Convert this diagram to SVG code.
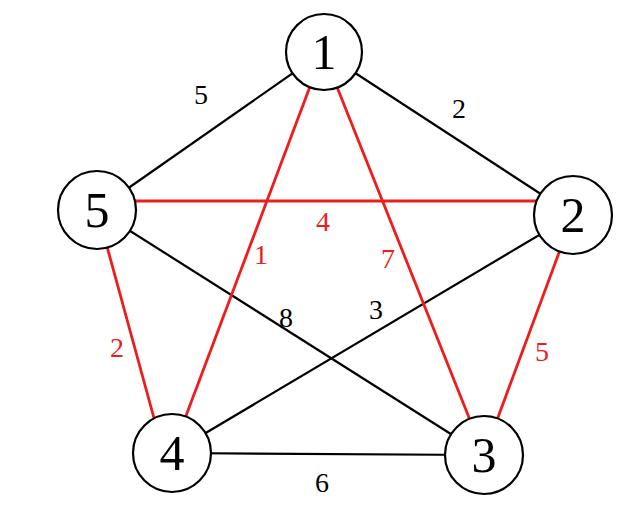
<svg xmlns="http://www.w3.org/2000/svg" width="640" height="524" viewBox="0 0 640 524">
<style>
.e{stroke-width:2.2;fill:none}
.k{stroke:#000}
.r{stroke:#ee1c1c;stroke-width:2.8}
.n circle{fill:#fff;stroke:#000;stroke-width:2.2}
.n text{font-family:"Liberation Serif",serif;font-size:50px;text-anchor:middle;fill:#000}
.l{font-family:"Liberation Serif",serif;font-size:28px;text-anchor:middle}
.lk{fill:#000}
.lr{fill:#ee1c1c}
</style>
<rect width="640" height="524" fill="#fff"/>
<g id="edges">
<line class="e k" x1="323" y1="52" x2="97" y2="210"/>
<line class="e k" x1="323" y1="52" x2="573" y2="215"/>
<line class="e k" x1="97" y1="210" x2="484" y2="455"/>
<line class="e k" x1="172" y1="453" x2="573" y2="215"/>
<line class="e k" x1="172" y1="453" x2="484" y2="455"/>
<line class="e r" x1="97" y1="201" x2="573" y2="201"/>
<line class="e r" x1="323" y1="52" x2="172" y2="453"/>
<line class="e r" x1="323" y1="52" x2="484" y2="455"/>
<line class="e r" x1="97" y1="210" x2="160" y2="440"/>
<line class="e r" x1="573" y1="215" x2="484" y2="455"/>
</g>
<g id="edge-labels">
<text class="l lk" x="201" y="104">5</text>
<text class="l lk" x="459" y="118">2</text>
<text class="l lr" x="323" y="231">4</text>
<text class="l lr" x="261" y="264">1</text>
<text class="l lr" x="388" y="268">7</text>
<text class="l lk" x="286" y="327">8</text>
<text class="l lk" x="376" y="319">3</text>
<text class="l lr" x="117" y="357">2</text>
<text class="l lr" x="542" y="361">5</text>
<text class="l lk" x="322" y="492">6</text>
</g>
<g id="node1" class="n"><circle cx="324" cy="52" r="38"/><text x="324" y="69">1</text></g>
<g id="node2" class="n"><circle cx="573" cy="215" r="39"/><text x="573" y="232">2</text></g>
<g id="node3" class="n"><circle cx="484" cy="455" r="39"/><text x="484" y="472">3</text></g>
<g id="node4" class="n"><circle cx="172" cy="453" r="39"/><text x="172" y="470">4</text></g>
<g id="node5" class="n"><circle cx="97" cy="210" r="39"/><text x="97" y="227">5</text></g>
</svg>
